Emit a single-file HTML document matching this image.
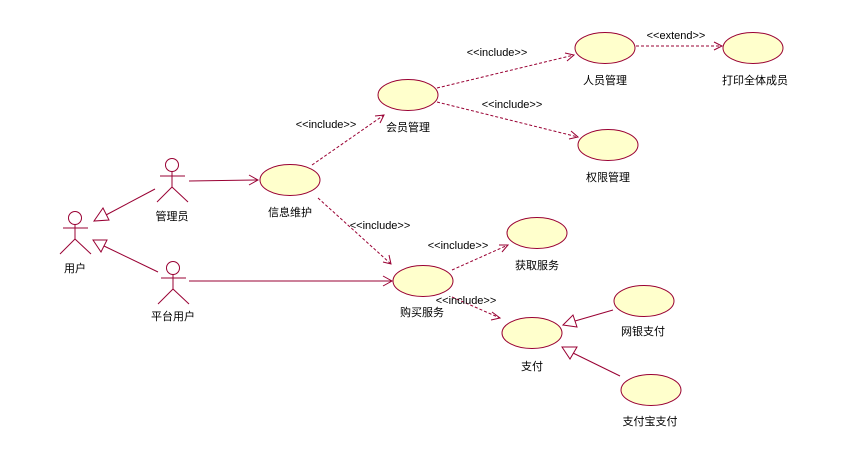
<!DOCTYPE html>
<html><head><meta charset="utf-8"><style>
html,body{margin:0;padding:0;background:#fff;}
svg{display:block;}
text{font-family:"Liberation Sans","Noto Sans CJK SC",sans-serif;font-size:11px;fill:#000;text-anchor:middle;}
.e{fill:#ffffcc;stroke:#990033;stroke-width:1;}
.s{stroke:#990033;stroke-width:1;fill:none;}
.d{stroke:#990033;stroke-width:1;fill:none;stroke-dasharray:3,2;}
.t{fill:#fff;stroke:#990033;stroke-width:1;}
</style></head><body>
<svg width="851" height="451" viewBox="0 0 851 451" xmlns="http://www.w3.org/2000/svg">
<!-- actors -->
<g class="s">
<circle cx="172" cy="165" r="6.5"/><line x1="160" y1="176" x2="185" y2="176"/><line x1="172" y1="171.5" x2="172" y2="187"/><line x1="172" y1="187" x2="157" y2="202"/><line x1="172" y1="187" x2="188" y2="202"/>
<circle cx="75" cy="218" r="6.5"/><line x1="63" y1="228" x2="88" y2="228"/><line x1="75" y1="224.5" x2="75" y2="239"/><line x1="75" y1="239" x2="60" y2="254"/><line x1="75" y1="239" x2="91" y2="254"/>
<circle cx="173" cy="268" r="6.5"/><line x1="161" y1="278" x2="186" y2="278"/><line x1="173" y1="274.5" x2="173" y2="289"/><line x1="173" y1="289" x2="158" y2="304"/><line x1="173" y1="289" x2="189" y2="304"/>
</g>
<text x="172" y="220">管理员</text>
<text x="75" y="272">用户</text>
<text x="173" y="320">平台用户</text>
<!-- ellipses -->
<ellipse class="e" cx="290" cy="180" rx="30" ry="15.5"/>
<ellipse class="e" cx="408" cy="95" rx="30" ry="15.5"/>
<ellipse class="e" cx="605" cy="48" rx="30" ry="15.5"/>
<ellipse class="e" cx="753" cy="48" rx="30" ry="15.5"/>
<ellipse class="e" cx="608" cy="145" rx="30" ry="15.5"/>
<ellipse class="e" cx="537" cy="233" rx="30" ry="15.5"/>
<ellipse class="e" cx="423" cy="281" rx="30" ry="15.5"/>
<ellipse class="e" cx="532" cy="333" rx="30" ry="15.5"/>
<ellipse class="e" cx="644" cy="301" rx="30" ry="15.5"/>
<ellipse class="e" cx="651" cy="390" rx="30" ry="15.5"/>
<text x="290" y="216">信息维护</text>
<text x="408" y="131">会员管理</text>
<text x="605" y="84">人员管理</text>
<text x="755" y="84">打印全体成员</text>
<text x="608" y="181">权限管理</text>
<text x="537" y="269">获取服务</text>
<text x="422" y="316">购买服务</text>
<text x="532" y="370">支付</text>
<text x="643" y="335">网银支付</text>
<text x="650" y="425">支付宝支付</text>
<!-- solid associations -->
<line class="s" x1="189" y1="181" x2="258" y2="180"/><polyline class="s" points="249,175 258,180 249,185"/>
<line class="s" x1="189" y1="281" x2="392" y2="281"/><polyline class="s" points="383,276 392,281 383,286"/>
<!-- generalizations -->
<line class="s" x1="155" y1="189" x2="106" y2="215"/><polygon class="t" points="94,221 103,208 109,220"/>
<line class="s" x1="158" y1="272" x2="104" y2="246"/><polygon class="t" points="93,240 107,240 101,252"/>
<line class="s" x1="613" y1="310" x2="575" y2="321"/><polygon class="t" points="563,325 573,315 577,327"/>
<line class="s" x1="620" y1="376" x2="573" y2="353"/><polygon class="t" points="562,347 577,347 570,359"/>
<!-- dashed includes -->
<line class="d" x1="312" y1="165" x2="384" y2="115"/><polyline class="s" points="375,116 384,115 380,123"/>
<text x="326" y="128">&lt;&lt;include&gt;&gt;</text>
<line class="d" x1="318" y1="198" x2="391" y2="264"/><polyline class="s" points="383,262 391,264 389,255"/>
<text x="380" y="229">&lt;&lt;include&gt;&gt;</text>
<line class="d" x1="437" y1="88" x2="574" y2="55"/><polyline class="s" points="565,53 574,55 567,61"/>
<text x="497" y="56">&lt;&lt;include&gt;&gt;</text>
<line class="d" x1="437" y1="102" x2="578" y2="137"/><polyline class="s" points="571,131 578,137 569,139"/>
<text x="512" y="108">&lt;&lt;include&gt;&gt;</text>
<line class="d" x1="636" y1="46" x2="722" y2="46"/><polyline class="s" points="714,42 722,46 714,50"/>
<text x="676" y="39">&lt;&lt;extend&gt;&gt;</text>
<line class="d" x1="452" y1="270" x2="508" y2="245"/><polyline class="s" points="499,245 508,245 502,252"/>
<text x="458" y="249">&lt;&lt;include&gt;&gt;</text>
<line class="d" x1="452" y1="297" x2="500" y2="318"/><polyline class="s" points="492,312 500,318 491,320"/>
<text x="466" y="304">&lt;&lt;include&gt;&gt;</text>
</svg>
</body></html>
